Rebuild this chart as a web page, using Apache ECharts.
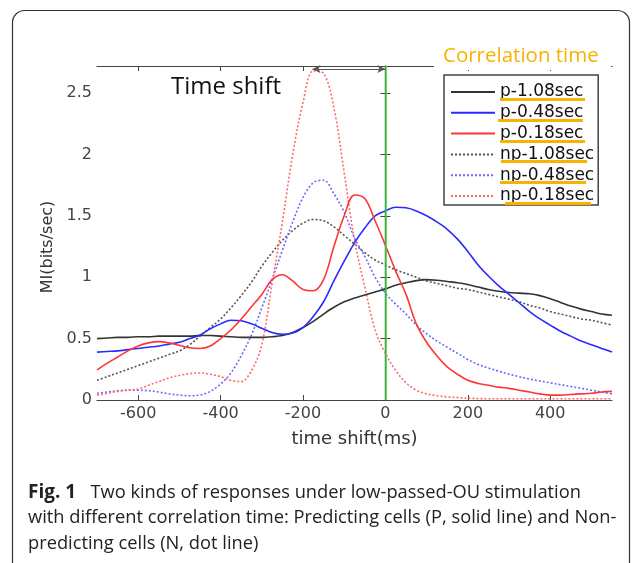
<!DOCTYPE html>
<html>
<head>
<meta charset="utf-8">
<script src="https://cdn.jsdelivr.net/npm/echarts@6/dist/echarts.min.js"></script>
<style>
  html, body { margin: 0; padding: 0; background: #fff; }
  #chart { width: 634px; height: 563px; }
</style>
</head>
<body>
<div id="chart"></div>
<script>
// time shift (ms), one sample every 25 ms
const timeShift = [-700,-675,-650,-625,-600,-575,-550,-525,-500,-475,-450,-425,-400,-375,-350,-325,
  -300,-275,-250,-225,-200,-175,-150,-125,-100,-75,-50,-25,0,25,50,75,
  100,125,150,175,200,225,250,275,300,325,350,375,400,425,450,475,
  500,525,550]

// MI (bits/sec), predicting cells (solid)
const p108 = [.50,.505,.51,.51,.515,.515,.52,.52,.52,.52,.525,.525,.52,.515,.51,.51,
  .51,.515,.525,.55,.59,.64,.70,.755,.80,.83,.855,.88,.905,.935,.955,.972,
  .98,.975,.965,.955,.94,.92,.90,.885,.875,.87,.865,.85,.825,.795,.765,.74,
  .72,.70,.69]
const p048 = [.39,.395,.40,.41,.42,.43,.44,.455,.47,.50,.53,.58,.62,.65,.645,.62,
  .585,.55,.535,.545,.59,.68,.80,.97,1.13,1.28,1.40,1.50,1.54,1.57,1.565,1.54,
  1.50,1.45,1.39,1.31,1.21,1.10,1.01,.93,.86,.79,.72,.66,.61,.56,.52,.48,
  .45,.42,.39]
const p018 = [.245,.30,.35,.40,.44,.465,.475,.465,.445,.425,.42,.44,.50,.57,.66,.76,
  .86,.98,1.02,.97,.90,.89,.98,1.25,1.50,1.67,1.64,1.46,1.26,1.05,.86,.62,
  .47,.36,.27,.21,.16,.135,.12,.105,.095,.08,.065,.05,.04,.04,.045,.05,
  .055,.065,.07]
// non-predicting cells (dotted)
const np108 = [.16,.19,.22,.25,.28,.31,.34,.37,.40,.45,.52,.59,.66,.75,.85,.96,
  1.09,1.20,1.30,1.38,1.44,1.47,1.46,1.41,1.34,1.27,1.20,1.14,1.10,1.06,1.03,1.00,
  .97,.95,.93,.91,.90,.88,.86,.84,.82,.80,.77,.75,.72,.70,.68,.66,
  .65,.63,.61]
const np048 = [.055,.065,.075,.08,.08,.075,.065,.05,.04,.035,.04,.07,.13,.22,.36,.53,
  .75,.98,1.22,1.45,1.65,1.77,1.79,1.68,1.53,1.32,1.17,1.00,.87,.78,.70,.61,
  .54,.48,.43,.38,.33,.29,.26,.235,.21,.19,.17,.155,.14,.125,.11,.095,
  .08,.065,.05]
const np018 = [.04,.055,.07,.08,.09,.12,.15,.18,.20,.215,.22,.21,.19,.16,.15,.24,
  .45,.95,1.45,2.00,2.42,2.68,2.66,2.38,1.85,1.30,.92,.57,.38,.24,.14,.08,
  .05,.035,.025,.02,.015,.012,.01,.01,.01,.01,.01,.01,.01,.01,.01,.01,
  .01,.01,.01]

const seriesNames = ['p-1.08sec','p-0.48sec','p-0.18sec','np-1.08sec','np-0.48sec','np-0.18sec']
const xTicks = [-600,-400,-200,0,200,400]
const yTicks = [0,0.5,1,1.5,2,2.5]
// "Time shift" arrow: from the np-0.18 peak to zero
const arrowFrom = -177
const arrowTo = 0
const arrowLevel = 2.696

const chart = echarts.init(document.getElementById('chart'))

const lineSeries = (name, values, color, dotted) => ({
  name: name,
  type: 'line',
  data: timeShift.map((t, i) => [t, values[i]]),
  symbol: 'none',
  smooth: 0.35,
  lineStyle: { color: color, width: 1.6, type: dotted ? [2, 2] : 'solid' },
  itemStyle: { color: color },
  z: dotted ? 3 : 4
})

const series = [
  lineSeries(seriesNames[0], p108, '#333333', false),
  lineSeries(seriesNames[1], p048, '#2a2aff', false),
  lineSeries(seriesNames[2], p018, '#ff3535', false),
  lineSeries(seriesNames[3], np108, '#555555', true),
  lineSeries(seriesNames[4], np048, '#6a6aff', true),
  lineSeries(seriesNames[5], np018, '#ff6a6a', true)
]
// green zero line
series[0].markLine = {
  silent: true, symbol: ['none', 'none'], label: { show: false },
  lineStyle: { color: '#33dd33', width: 1.5, type: 'solid' },
  data: [{ xAxis: 0 }]
}
// time shift arrow
series[1].markLine = {
  silent: true, symbol: ['arrow', 'arrow'], symbolSize: [6, 8], label: { show: false },
  lineStyle: { color: '#555', width: 1, type: 'solid' },
  data: [[{ coord: [arrowFrom, arrowLevel] }, { coord: [arrowTo, arrowLevel] }]]
}

const axisColor = '#444'
const tickFont = { fontFamily: 'DejaVu Sans', fontSize: 16, color: '#444' }
const captionFont = '18.3px "Open Sans"'
const underline = (x, y, w) => ({
  type: 'rect', shape: { x: x, y: y, width: w, height: 3 },
  style: { fill: '#f6b400' }, z: 110, silent: true
})

const options = {
  animation: false,
  grid: { left: 97, right: 22, top: 66, bottom: 163 },
  xAxis: [{
    type: 'value', min: -700, max: 550,
    name: 'time shift(ms)', nameLocation: 'middle', nameGap: 30,
    nameTextStyle: { fontFamily: 'DejaVu Sans', fontSize: 18, color: '#333' },
    axisLine: { show: true, onZero: false, lineStyle: { color: axisColor, width: 1.2 } },
    axisTick: { show: true, inside: true, length: 5, customValues: xTicks, lineStyle: { color: axisColor } },
    axisLabel: { customValues: xTicks, margin: 6, ...tickFont },
    splitLine: { show: false }
  }, {
    type: 'value', min: -700, max: 550, position: 'top',
    axisLine: { show: true, onZero: false, lineStyle: { color: axisColor, width: 1.2 } },
    axisTick: { show: true, inside: true, length: 5, customValues: xTicks, lineStyle: { color: axisColor } },
    axisLabel: { show: false },
    splitLine: { show: false }
  }],
  yAxis: [{
    type: 'value', min: 0, max: 2.72,
    axisLine: { show: true, lineStyle: { color: axisColor, width: 1.2 } },
    axisTick: { show: true, inside: true, length: 5, customValues: yTicks, lineStyle: { color: axisColor } },
    axisLabel: { customValues: yTicks, margin: 5, ...tickFont },
    splitLine: { show: false }
  }, {
    type: 'value', min: 0, max: 2.72, position: 'right',
    axisLine: { show: true, lineStyle: { color: axisColor, width: 1.2 } },
    axisTick: { show: true, inside: true, length: 5, customValues: yTicks, lineStyle: { color: axisColor } },
    axisLabel: { show: false },
    splitLine: { show: false }
  }],
  legend: {
    orient: 'vertical', left: 444, top: 75,
    data: seriesNames,
    padding: [8.5, 4, 0.5, 6],
    itemWidth: 44, itemHeight: 14, itemGap: 3.8,
    itemStyle: { opacity: 0 },
    backgroundColor: '#fff',
    borderColor: '#444', borderWidth: 1.5,
    textStyle: { fontFamily: 'DejaVu Sans', fontSize: 17, color: '#111' },
    selectedMode: false
  },
  graphic: [
    // rounded figure frame
    { type: 'rect', shape: { x: 12.5, y: 10.5, width: 617, height: 640, r: 12 },
      style: { fill: 'none', stroke: '#333', lineWidth: 1.2 }, z: -10, silent: true },
    // gap in the top frame line under the legend title
    { type: 'rect', shape: { x: 434, y: 62, width: 177, height: 8 },
      style: { fill: '#fff' }, z: 100, silent: true },
    { type: 'text', left: 443, top: 46, z: 110, silent: true,
      style: { text: 'Correlation time', fill: '#f6b400', font: '20.5px "Open Sans"' } },
    { type: 'text', left: 171, top: 75, z: 110, silent: true,
      style: { text: 'Time shift', fill: '#111', font: '24px "Open Sans"' } },
    // y axis title
    { type: 'text', x: 48, y: 247, rotation: Math.PI / 2, z: 110, silent: true,
      style: { text: 'MI(bits/sec)', fill: '#333', font: '16px "DejaVu Sans"',
        align: 'center', verticalAlign: 'middle' } },
    underline(500, 98, 85),
    underline(498, 119, 85),
    underline(500, 140, 85),
    underline(501, 160, 86),
    underline(500, 181, 86),
    underline(505, 202, 86),
    // caption
    { type: 'text', left: 28, top: 483, z: 110, silent: true,
      style: {
        text: '{b|Fig. 1}   Two kinds of responses under low-passed-OU stimulation',
        font: captionFont, fill: '#222',
        rich: { b: { fontWeight: 'bold', fontSize: 19, fontFamily: 'Open Sans', fill: '#222' } }
      } },
    { type: 'text', left: 28, top: 509, z: 110, silent: true,
      style: { text: 'with different correlation time: Predicting cells (P, solid line) and Non-',
        font: captionFont, fill: '#222' } },
    { type: 'text', left: 28, top: 535, z: 110, silent: true,
      style: { text: 'predicting cells (N, dot line)', font: captionFont, fill: '#222' } }
  ],
  series: series
}
chart.setOption(options)
</script>
</body>
</html>
